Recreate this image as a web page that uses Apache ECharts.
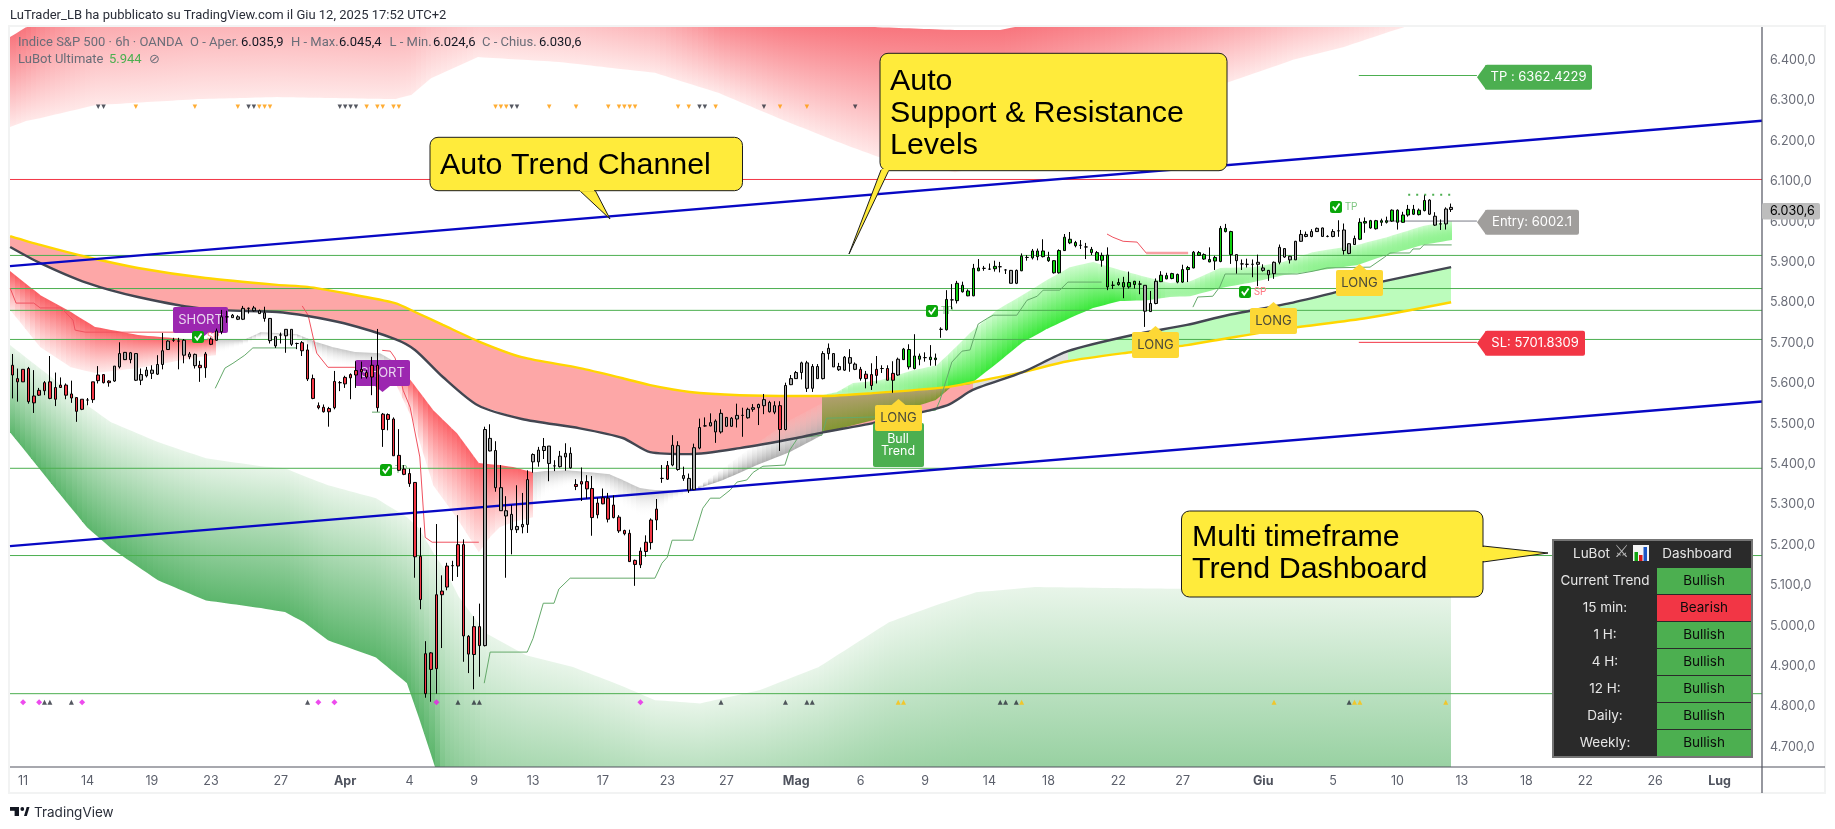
<!DOCTYPE html>
<html><head><meta charset="utf-8"><style>html,body{margin:0;background:#fff}#c{width:1835px;height:829px}</style>
<script src="https://cdn.jsdelivr.net/npm/echarts@6/dist/echarts.min.js"></script></head><body><div id="c"></div>
<script>
// ---- candles: [bodyA, bodyB, low, high], colour codes r=bearish red, n=neutral grey, G=bullish green
const candlesMar=[[5645,5621,5563,5673],[5612,5604,5555,5637],[5635,5604,5604,5635],[5637,5555,5550,5641],[5569,5552,5527,5633],[5583,5571,5569,5589],[5602,5582,5571,5606],[5604,5563,5561,5668],[5590,5561,5544,5627],[5596,5590,5590,5615],[5596,5571,5561,5600],[5574,5564,5552,5607],[5565,5531,5505,5565],[5561,5536,5534,5561],[5559,5559,5546,5564],[5604,5560,5552,5604],[5621,5607,5600,5643],[5622,5602,5600,5622],[5606,5602,5592,5608],[5643,5606,5604,5643],[5674,5641,5637,5702],[5677,5659,5658,5678],[5676,5659,5650,5678],[5674,5608,5606,5674],[5622,5608,5596,5637],[5633,5619,5615,5641],[5633,5625,5611,5645],[5647,5623,5621,5670],[5681,5647,5635,5725],[5705,5684,5683,5707],[5707,5707,5703,5713],[5705,5705,5635,5713],[5707,5670,5650,5710],[5673,5666,5660,5678],[5672,5644,5637,5674],[5645,5639,5604,5656],[5673,5639,5614,5678],[5710,5697,5695,5714],[5730,5707,5706,5736],[5765,5728,5722,5782],[5765,5765,5750,5780],[5769,5763,5763,5772],[5765,5759,5757,5769],[5786,5759,5757,5792],[5786,5786,5773,5788],[5787,5780,5778,5792],[5780,5773,5772,5783],[5775,5761,5753,5790],[5761,5706,5699,5761],[5716,5693,5688,5716],[5720,5720,5699,5726],[5734,5718,5676,5734],[5734,5697,5693,5734],[5699,5699,5685,5701]];
const coloursMar="rrrrrrrrrrrrrrrrrrrnnnnnnnnnnnnnnnnrrrnnnnnnnnnnnnnnnn";
const candlesApr=[[5701,5681,5668,5705],[5683,5611,5606,5697],[5612,5563,5561,5622],[5545,5540,5536,5553],[5541,5530,5528,5548],[5538,5530,5493,5542],[5605,5540,5536,5631],[5602,5602,5581,5606],[5615,5599,5589,5619],[5622,5614,5561,5625],[5632,5621,5589,5655],[5635,5629,5612,5654],[5627,5616,5612,5633],[5645,5616,5571,5666],[5645,5540,5530,5735],[5524,5486,5443,5527],[5523,5511,5484,5526],[5512,5421,5421,5516],[5422,5385,5383,5487],[5388,5375,5373,5398],[5377,5352,5344,5389],[5355,5171,5119,5356],[5172,5065,5041,5243],[4931,4832,4822,4962],[4933,4892,4812,4935],[5077,4894,4832,5252],[5086,5077,4945,5125],[5148,5096,5088,5156],[5149,5149,5111,5161],[5201,5148,5121,5274],[5201,4975,4911,5214],[4974,4930,4883,4977],[4998,4929,4843,5024],[4998,4951,4874,5055],[5486,4951,4949,5493],[5464,5433,5432,5499],[5434,5342,5332,5457],[5342,5285,5285,5398],[5285,5272,5119,5321],[5276,5238,5177,5299],[5246,5238,5230,5348],[5251,5245,5229,5329],[5362,5251,5230,5385],[5424,5406,5379,5427],[5435,5406,5394,5443],[5444,5434,5413,5465],[5445,5402,5358,5445],[5396,5396,5383,5410],[5420,5394,5392,5433],[5427,5418,5384,5452],[5427,5391,5389,5442],[5350,5345,5336,5363],[5357,5351,5309,5392],[5357,5339,5315,5373]];
const coloursApr="rrrrrrrrrrrrrrrrrrrrrrrrrrrrrrrrrrnnnnnnnnnnnnnnnnnrrr";
const candlesMay=[[5340,5268,5223,5371],[5304,5275,5266,5317],[5317,5302,5301,5340],[5316,5264,5256,5329],[5299,5268,5266,5323],[5269,5235,5230,5274],[5236,5228,5224,5238],[5229,5159,5158,5238],[5162,5152,5099,5164],[5185,5151,5143,5194],[5207,5184,5171,5224],[5262,5206,5189,5266],[5289,5262,5237,5314],[5365,5365,5354,5398],[5397,5363,5361,5408],[5447,5398,5395,5472],[5446,5387,5384,5457],[5372,5365,5359,5394],[5365,5336,5329,5377],[5441,5337,5336,5451],[5491,5440,5437,5513],[5495,5495,5493,5516],[5503,5495,5494,5526],[5507,5480,5453,5511],[5526,5480,5476,5536],[5516,5494,5493,5517],[5514,5494,5493,5517],[5521,5512,5491,5550],[5521,5521,5468,5540],[5536,5515,5513,5540],[5540,5536,5530,5549],[5548,5540,5497,5550],[5560,5545,5524,5574],[5553,5530,5528,5557],[5545,5529,5524,5556],[5545,5486,5433,5556],[5595,5486,5484,5602],[5612,5597,5596,5621],[5627,5612,5611,5631],[5651,5627,5610,5654],[5651,5588,5579,5656],[5642,5588,5579,5648],[5642,5612,5611,5648],[5674,5612,5610,5680],[5687,5674,5659,5699],[5674,5641,5641,5674],[5642,5634,5631,5651],[5665,5633,5631,5668],[5664,5650,5629,5685],[5648,5635,5633,5652],[5635,5612,5607,5641],[5623,5612,5588,5631],[5622,5595,5584,5650],[5635,5620,5600,5668]];
const coloursMay="rrrrrrrrrrrrrrrnnnnnnnnnnnnnnnnnnnnrnnnnnnnnnnnnnnrrrr";
const candlesLateMay=[[5637,5637,5626,5645],[5637,5608,5607,5645],[5625,5608,5577,5655],[5660,5621,5619,5664],[5685,5659,5658,5688],[5684,5641,5635,5697],[5668,5637,5635,5722],[5668,5660,5645,5674],[5664,5664,5654,5677],[5665,5659,5644,5695],[5663,5659,5644,5674],[5734,5734,5713,5739],[5808,5733,5731,5831],[5807,5807,5784,5846],[5848,5805,5798,5854],[5843,5827,5825,5852],[5829,5817,5816,5833],[5885,5817,5816,5896],[5886,5879,5878,5908],[5885,5885,5879,5891],[5883,5883,5881,5897],[5890,5884,5877,5904],[5889,5889,5875,5901],[5881,5881,5871,5883],[5880,5848,5848,5881],[5880,5848,5846,5882],[5915,5879,5878,5922],[5912,5912,5904,5918],[5928,5911,5907,5933],[5928,5914,5905,5934],[5928,5914,5912,5957],[5912,5904,5901,5926],[5904,5874,5872,5905],[5929,5874,5872,5932],[5962,5929,5928,5970],[5957,5948,5945,5975],[5949,5941,5937,5953],[5942,5942,5933,5955],[5938,5938,5908,5948],[5932,5924,5918,5938],[5924,5905,5904,5928],[5917,5905,5889,5924],[5918,5839,5831,5937],[5843,5843,5834,5853],[5850,5845,5842,5860],[5850,5839,5811,5864],[5850,5839,5835,5877],[5853,5845,5835,5854],[5846,5846,5821,5854],[5843,5779,5740,5843],[5798,5778,5777,5829],[5853,5798,5796,5860],[5868,5852,5851,5878],[5867,5859,5858,5874]];
const coloursLateMay="rrrnGGGGGGGGGGGGGGGGGGGGnnGGGGGGGGGGGGGGGGGGGGGGGnnnGG";
const candlesJun=[[5872,5860,5858,5874],[5870,5851,5848,5872],[5882,5851,5849,5894],[5887,5882,5851,5891],[5925,5886,5885,5928],[5924,5917,5916,5928],[5919,5908,5906,5922],[5907,5901,5900,5937],[5912,5903,5881,5916],[5984,5902,5900,5990],[5984,5976,5974,5995],[5976,5919,5896,5978],[5919,5904,5872,5920],[5896,5896,5881,5907],[5895,5895,5887,5909],[5895,5895,5863,5907],[5900,5895,5841,5919],[5886,5880,5877,5895],[5880,5869,5854,5881],[5900,5872,5859,5902],[5937,5900,5895,5944],[5934,5913,5911,5934],[5915,5906,5897,5916],[5952,5906,5906,5953],[5969,5952,5951,5980],[5969,5964,5962,5976],[5976,5964,5962,5982],[5984,5976,5975,5986],[5985,5964,5963,5986],[5964,5964,5962,5967],[5976,5964,5962,5982],[5978,5978,5963,6004],[5980,5929,5919,5996],[5946,5922,5920,5947],[5959,5944,5943,5966],[5999,5957,5955,6009],[6001,5997,5973,6011],[6003,5985,5983,6005],[6003,5983,5981,6005],[6003,5999,5990,6008],[6003,5999,5996,6013],[6029,6002,6000,6031],[6029,5999,5981,6031],[6017,5999,5998,6025],[6031,6017,6013,6042],[6031,6019,6017,6042],[6029,6018,6016,6033],[6053,6028,6026,6066],[6054,6019,6017,6056],[6014,5992,5990,6024],[5995,5995,5980,6006],[6032,5995,5981,6036],[6035.9,6030.6,6024.6,6045.4]];
const coloursJun="GGGGGGGGGGGGnnnnnnnnnnnnnnnnnnnnnnnGGGGGGGGGGGGGnnnnn";

// ---- axes
const yTicks=[4700,4800,4900,5000,5100,5200,5300,5400,5500,5600,5700,5800,5900,6000,6100,6200,6300,6400];
const xTickBars=[2,14,26,37,50,62,74,86,97,110,122,133,146,158,170,182,193,206,218,233,246,258,270,282,293,306,318];
const xTickLabels=["11","14","19","23","27","Apr","4","9","13","17","23","27","Mag","6","9","14","18","22","27","Giu","5","10","13","18","22","26","Lug"];
const monthLabels=["Apr","Mag","Giu","Lug"];

// ---- horizontal levels and channel lines
const supportLevels=[5917,5835,5781,5709,5390,5174,4832];
const resistanceLevel=6105;
const channelUpper=[[-0.43,5890.6],[325.9,6250.4]];
const channelLower=[[-0.43,5197.2],[325.9,5555.3]];
const tpLine=[[250.8,6362.4],[272.8,6362.4]];
const entryLine=[[256,6002.1],[272.8,6002.1]];
const slLine=[[250.8,5701.8],[272.8,5701.8]];
const tpDots=[[260,6067],[268,6067]];

// ---- slow ribbon
const slowBars=[-0.4,5.2,13.9,23.4,36,49.3,55,61.8,71.3,75,80.2,86.7,94.9,105.7,113.7,118.8,126.2,135.5,146.1,151,160.3,174.1,178.9,188.2,196.6,208.7,218.8,226.3,238,252.3,268];
const slowYellow=[5965,5943,5913,5886,5861,5844,5839,5824,5799,5777,5745,5705,5665,5638,5613,5596,5579,5571,5569,5569,5576,5591,5603,5628,5655,5678,5695,5712,5737,5762,5801];
const slowDark=[5938,5898,5849,5814,5784,5777,5767,5749,5710,5683,5616,5546,5512,5489,5465,5430,5425,5440,5465,5479,5502,5546,5584,5628,5680,5720,5745,5769,5799,5844,5888];

// ---- gradient bands: [bar, upper, lower]
const bandTopRed=[[-0.4,6458,6235],[2.6,6482,6250],[5.2,6525,6257],[15.4,6648,6289],[34.6,6698,6304],[49.3,6698,6309],[71.3,6673,6304],[74.3,6673,6314],[78,6698,6356],[86.7,6710,6408],[101.8,6710,6396],[119.7,6624,6369],[131.6,6525,6319],[143.6,6500,6252],[155.3,6487,6190],[161.3,6482,6161],[175.6,6475,6123],[184,6475,6146],[202.6,6525,6240],[226.6,6599,6346],[238.5,6648,6401],[248,6673,6433],[257.5,6698,6475],[259.2,6698,6482]];
const bandLowGreen=[[-0.4,5695,5479],[7.2,5616,5353],[13.9,5546,5244],[18.4,5504,5192],[27.1,5455,5113],[36,5415,5063],[46.3,5395,5044],[50.8,5390,5034],[54.3,5371,5009],[58.8,5348,4964],[67.7,5316,4922],[73.5,5269,4858],[75.7,5242,4774],[78.7,5175,4652],[80.6,5138,4444],[83.2,5071,4395],[88.2,4982,4320],[95.7,4927,4320],[104.4,4898,4320],[113.2,4853,4320],[119.7,4816,4320],[128.1,4808,4320],[139.3,4841,4320],[150.2,4898,4320],[163.3,5009,4320],[172,5051,4320],[179.5,5083,4320],[190.5,5096,4320],[208.9,5093,4320],[239.8,5088,4320],[268,5078,4320]];
const fastRedA=[[-0.4,5878,5782],[5.2,5819,5690],[10.9,5777,5640],[15.4,5740,5626],[23.4,5720,5638],[34.6,5707,5665],[37.9,5710,5670]];
const fastGreyA=[[37.9,5710,5670],[43,5707,5695],[46.3,5727,5712],[53,5722,5715],[56.7,5702,5663],[59.7,5690,5645],[63.8,5678,5638],[68.5,5675,5628],[71.7,5650,5591]];
const fastRedB=[[71.7,5650,5591],[74.6,5601,5509],[78.4,5534,5348],[82.8,5477,5267],[86.9,5403,5182],[89,5400,5220],[90.8,5398,5244],[93.3,5393,5257],[97,5380,5269]];
const fastGreyB=[[97,5380,5269],[99.2,5383,5323],[103.3,5385,5343],[107.6,5380,5353],[111.3,5375,5319],[113.7,5361,5294],[116.9,5341,5269],[119.7,5336,5274],[123,5336,5311],[126.8,5336,5336]];
const fastGreyC=[[126.8,5336,5336],[132.4,5390,5361],[138.7,5452,5398],[144.8,5509,5430],[150.8,5551,5472]];
const fastOlive=[[150.8,5569,5477],[160.3,5576,5509],[172,5588,5559],[174.6,5593,5588]];
const fastGreen=[[150.8,5571,5569],[153.6,5579,5569],[156.6,5601,5571],[161.6,5608,5576],[167.8,5633,5584],[172.2,5645,5586],[175.2,5683,5593],[178.4,5725,5598],[183.4,5782,5650],[188.2,5819,5702],[192.7,5856,5735],[197,5888,5762],[201.3,5901,5787],[206.3,5881,5804],[211.3,5863,5806],[215.6,5849,5814],[219.4,5853,5816],[225,5886,5836],[231.2,5888,5851],[236.7,5901,5868],[242.2,5925,5878],[250.5,5943,5893],[256,5962,5918],[262.8,5990,5943],[268.1,6002,5955]];

// ---- trailing stops
const redTrailA=[[-0.4,5836],[0.7,5799],[4,5799],[5.2,5787],[9.1,5787],[11.3,5757],[11.7,5732],[13.6,5727],[35,5727]];
const redTrailB=[[54,5792],[55.1,5769],[56.7,5675],[58.8,5640],[63.8,5640]];
const redTrailC=[[68.9,5682],[70.4,5680],[71.3,5663],[72.8,5583],[74.1,5541],[75.9,5418],[76.9,5219],[78.2,5207],[86.9,5207]];
const redTrailD=[[203.9,5970],[205,5962],[206.9,5952],[209.5,5950],[211.2,5923],[219,5923]];
const redTrailE=[[211.2,5923],[219,5923]];
const greenTrailA=[[37.8,5588],[39.6,5638],[41.1,5650],[43.3,5670],[44.8,5688],[53,5688]];
const greenTrailB=[[67,5529],[68.5,5529]];
const greenTrailC=[[87.9,4858],[89,4935],[95.9,4935],[97,4969],[98.9,5056],[100.9,5056],[101.8,5091],[103.9,5118],[119.7,5118],[121,5155],[122,5170],[122.9,5212],[126.8,5212],[128.6,5291],[130,5316],[131.8,5316],[133.7,5336],[135,5356],[136.8,5361],[138,5380],[139.8,5395],[143.9,5398],[144.8,5435],[146.3,5465],[150.8,5472],[151.7,5514],[160.7,5517],[172,5534],[172.8,5559],[175,5653],[176.9,5680],[178.4,5683],[179.9,5747],[181.7,5762],[182.7,5769],[187.1,5769],[189,5806],[190.9,5816],[192,5831],[195.1,5831],[196.6,5851],[202.9,5851]];
const greenTrailD=[[219.9,5789],[220.8,5814],[223.6,5816],[224.9,5839],[225.9,5871],[239.3,5871],[242.3,5878],[244.9,5886],[252.9,5888],[255.3,5910],[256.6,5923],[260.3,5923],[260.9,5933],[262.2,5933],[262.9,5943],[268.1,5943]];

// ---- event markers (bar index)
const topMarkerPrice=6285, bottomMarkerPrice=4811;
const topBlackBars=[16,17,44,45,61,62,63,64,93,94,128,129,140,157];
const topOrangeBars=[23,34,42,46,47,48,66,68,69,71,72,90,91,92,100,105,111,113,114,115,116,124,126,131,143,148];
const bottomMagentaBars=[2,5,13,57,60,79,117];
const bottomBlackBars=[6,7,11,55,83,86,87,132,144,148,149,184,185,187,249];
const bottomGoldBars=[165,166,188,235,250,251,267];

// ---- dashboard
const dashRows=["Current Trend","15 min:","1 H:","4 H:","12 H:","Daily:","Weekly:"];
const dashStates=["Bullish","Bearish","Bullish","Bullish","Bullish","Bullish","Bullish"];

const colourOf={r:'#f23645',n:'#a6a6a6',G:'#0fd10f'};
const allCandles=[...candlesMar,...candlesApr,...candlesMay,...candlesLateMay,...candlesJun];
const allColours=coloursMar+coloursApr+coloursMay+coloursLateMay+coloursJun;
const candleData=allCandles.map((r,i)=>({value:[i,r[0],r[1],r[2],r[3]],itemStyle:{color:colourOf[allColours[i]],color0:colourOf[allColours[i]],borderColor:'#000',borderColor0:'#000',borderColorDoji:'#000'}}));

const rgba=c=>`rgba(${c[0]},${c[1]},${c[2]},${c[3]})`;
function bandSeries(name,rows,top,bot,z,soft){
  return {type:'custom',name,silent:true,z,clip:true,animation:false,coordinateSystem:'cartesian2d',
    encode:{x:0,y:[1,2]},data:rows,
    renderItem(p,api){
      const i=p.dataIndex; if(i>=rows.length-1) return null;
      const a=api.coord([rows[i][0],rows[i][1]]),b=api.coord([rows[i][0],rows[i][2]]),
            c=api.coord([rows[i+1][0],rows[i+1][1]]),d=api.coord([rows[i+1][0],rows[i+1][2]]);
      const n=Math.max(1,Math.ceil((c[0]-a[0])/5.37)),kids=[];
      for(let k=0;k<n;k++){
        const x0=Math.round(a[0]+(c[0]-a[0])*k/n),x1=Math.round(a[0]+(c[0]-a[0])*(k+1)/n);
        const f0=(x0-a[0])/(c[0]-a[0]),f1=(x1-a[0])/(c[0]-a[0]);
        const u0=a[1]+(c[1]-a[1])*f0,u1=a[1]+(c[1]-a[1])*f1,l0=b[1]+(d[1]-b[1])*f0,l1=b[1]+(d[1]-b[1])*f1;
        const ym=(u0+u1)/2,yb=(l0+l1)/2,yTop=Math.min(ym,yb),yBot=Math.max(ym,yb,yTop+1);
        let bc=bot; if(soft){bc=[bot[0],bot[1],bot[2],bot[3]*Math.min(1,(yBot-yTop)/34)];}
        kids.push({type:'polygon',shape:{points:[[x0,u0],[x1,u1],[x1,l1],[x0,l0]]},
          style:{fill:new echarts.graphic.LinearGradient(0,yTop,0,yBot,[{offset:0,color:rgba(top)},{offset:1,color:rgba(bc)}],true)}});
      }
      return {type:'group',children:kids};
    }};
}
const line=(name,data,color,width,z,extra)=>Object.assign({type:'line',name,data,symbol:'none',silent:true,animation:false,z,lineStyle:{color,width}},extra||{});
const zipBars=(a,b,c)=>a.map((x,i)=>[x,b[i],c[i]]);
const slowRows=zipBars(slowBars,slowYellow,slowDark);
const ptsOf=(bars,vals)=>bars.map((x,i)=>[x,vals[i]]);
const marker=(name,bars,price,symbol,color,size,rot)=>({type:'scatter',name,silent:true,animation:false,z:6,symbol,symbolSize:size,symbolRotate:rot||0,itemStyle:{color},data:bars.map(b=>[b,price])});

// ---- page furniture
const G=[];
const rect=(x,y,w,h,fill,z,r,stroke,lw)=>G.push({type:'rect',silent:true,z,shape:{x,y,width:w,height:h,r:r||0},style:{fill,stroke:stroke||null,lineWidth:lw||0}});
const poly=(pts,fill,z,stroke,lw)=>G.push({type:'polygon',silent:true,z,shape:{points:pts},style:{fill,stroke:stroke||null,lineWidth:lw||0}});
const ln=(x1,y1,x2,y2,stroke,z,lw)=>G.push({type:'line',silent:true,z,shape:{x1,y1,x2,y2},style:{stroke,lineWidth:lw||1}});
const txt=(x,y,text,size,fill,z,o)=>{o=o||{};G.push({type:'text',silent:true,z,x,y,style:{text,fill,fontSize:size,fontFamily:o.f||'Inter',fontWeight:o.w||'normal',align:o.a||'left',verticalAlign:'middle'}});};

// frame
rect(9,26,1816,767,'none',0.5,0,'#f2f3f3',2);
ln(1762,27,1762,793,'#50535e',8,1.2);
ln(10,767,1825,767,'#50535e',8,1.2);

// header + legend
txt(10,16,'LuTrader_LB ha pubblicato su TradingView.com il Giu 12, 2025 17:52 UTC+2',13,'#2a2e39',10,{f:'Roboto'});
const grey='#6a6d78',dark='#131722';
[[18,'Indice S&P 500 · 6h · OANDA',grey],[190,'O - Aper.',grey],[241,'6.035,9',dark],[291,'H - Max.',grey],[339,'6.045,4',dark],[389.5,'L - Min.',grey],[433,'6.024,6',dark],[482,'C - Chius.',grey],[539,'6.030,6',dark],[18,'LuBot Ultimate',grey,1],[109,'5.944','#4caf50',1],[149,'⊘',grey,1]].forEach(p=>txt(p[0],p[3]?59.5:42.7,p[1],13,p[2],10,{f:p[1]=='⊘'?'DejaVu Sans':'Roboto'}));

// price box
rect(1762,203,58,16.5,'#bdbdbd',9,2);
txt(1770,211,'6.030,6',12.5,'#000',10);

// TP / Entry / SL tags
const sideTag=(x1,ycy,w,fill,t)=>{poly([[1477,ycy],[1486,ycy-12.5],[1486,ycy+12.5]],fill,3);rect(1485,ycy-12.5,w,25,fill,3,2);txt(1485+w/2,ycy,t,13,'#fff',4,{a:'center',f:'Inter'});};
sideTag(0,77.3,107,'#4caf50','TP : 6362.4229');
sideTag(0,222.3,94,'#a09e9c','Entry: 6002.1');
sideTag(0,343.3,100,'#f23645','SL: 5701.8309');

// SHORT / LONG tags
const shortTag=(x,y)=>{rect(x,y,55,26,'#9c27b0',3,2);poly([[x+20,y+26],[x+35,y+26],[x+27.5,y+32]],'#9c27b0',3);txt(x+27.5,y+13,'SHORT',13,'#e9d5ef',3.5,{a:'center'});};
shortTag(173,307);shortTag(355,360);
const longTag=(x,y)=>{poly([[x+16.5,y],[x+30.5,y],[x+23.5,y-6]],'#fdd835',4);rect(x,y,47,26,'#fdd835',4,2);txt(x+23.5,y+13,'LONG',13,'#4a4a3a',4.5,{a:'center'});};
rect(873,423,51,44,'#4caf50',3,2);
txt(898,439,'Bull',12.5,'#fff',3.5,{a:'center'});txt(898,451.5,'Trend',12.5,'#fff',3.5,{a:'center'});
longTag(875,405);longTag(1132,332);longTag(1250,308);longTag(1336,270);

// check badges
const badge=(cx,cy,t,col)=>{rect(cx-6,cy-6,12,12,'#0aa60a',3,2.5);
  G.push({type:'polyline',silent:true,z:3.2,shape:{points:[[cx-3.2,cy-0.5],[cx-0.8,cy+2.8],[cx+3.6,cy-3.6]]},style:{stroke:'#fff',fill:'none',lineWidth:1.8}});
  if(t)txt(cx+9,cy+0.5,t,10,col,3.2,{f:'Roboto'});};
badge(198,337,'SP','#ff7a85');badge(386,470,'TP','#81c784');badge(932,311,'TP','#81c784');badge(1336,207,'TP','#81c784');badge(1245,292,'SP','#ff7a85');

// callouts
const Y='#ffeb3b',K='#1c1c1c';
const callout=(x,y,w,h,tail,patch,lines)=>{poly(tail,Y,20,K,1);rect(x,y,w,h,Y,21,8,K,1);rect(patch[0],patch[1],patch[2],patch[3],Y,22);
  lines.forEach(l=>txt(l[0],l[1],l[2],30.4,'#000',23,{f:'Liberation Sans'}));};
callout(430,137.3,312.5,53.4,[[579,190],[595,190],[610,219]],[580,189,14,2.5],[[440,165.5,'Auto Trend Channel']]);
callout(880,53.3,347,117.4,[[881,170],[889,170],[849,254]],[881.5,169,7,2.5],[[890,82,'Auto'],[890,114,'Support & Resistance'],[890,146,'Levels']]);
callout(1181.5,511,301.5,86,[[1483,546],[1483,562],[1548,553]],[1481.5,547,3,14],[[1192,537.5,'Multi timeframe'],[1192,570,'Trend Dashboard']]);

// dashboard
rect(1553,540,199,217,'#2a2a2a',24,0,'#757575',2);
txt(1573,554,'LuBot',13.5,'#e6e6e6',25);
txt(1614,553,'⚔',17,'#b8b8b8',25,{f:'DejaVu Sans'});
rect(1633,545,16,16,'#f3f3f3',25);rect(1634.5,552,3.5,9,'#0fa30f',25.2);rect(1639,555,3.5,6,'#d61a1a',25.2);rect(1643.5,547,3.5,14,'#1a55c4',25.2);
txt(1697,554,'Dashboard',13.5,'#e6e6e6',25,{a:'center'});
dashRows.forEach((t,i)=>{const y=568+i*27;
  rect(1657,y,94,26,dashStates[i]=='Bullish'?'#4caf50':'#f23645',25);
  txt(1605,y+13,t,13.5,'#e6e6e6',26,{a:'center'});
  txt(1704,y+13,dashStates[i],13.5,'#0b0b0b',26,{a:'center'});});

// TradingView mark
rect(10,807,9,3.8,'#131722',10);rect(14.6,807,4.4,9,'#131722',10);
G.push({type:'circle',silent:true,z:10,shape:{cx:22.3,cy:809,r:1.9},style:{fill:'#131722'}});
poly([[24,816],[26.7,807],[29.5,807],[26.8,816]],'#131722',10);
txt(34,813,'TradingView',13.5,'#2a2e39',10,{f:'Inter'});

const bandsAndLines=[
  bandSeries('top red band',bandTopRed,[248,118,126,1],[255,232,232,1],1),
  bandSeries('lower green band',bandLowGreen,[232,245,233,1],[92,182,108,1],1),
  bandSeries('slow ribbon bear',slowRows.slice(0,23),[253,167,167,1],[253,167,167,1],1.1),
  bandSeries('slow ribbon flat',slowRows.slice(22,25),[224,224,224,1],[224,224,224,1],1.1),
  bandSeries('slow ribbon bull',slowRows.slice(24),[188,252,188,1],[188,252,188,1],1.1),
  bandSeries('fast red a',fastRedA,[250,95,100,1],[255,228,228,0.8],1.2),
  bandSeries('fast grey a',fastGreyA,[190,190,190,0.85],[255,255,255,0],1.2),
  bandSeries('fast red b',fastRedB,[252,100,105,1],[255,228,228,0.8],1.2),
  bandSeries('fast grey b',fastGreyB,[190,190,190,0.85],[255,255,255,0],1.2),
  bandSeries('fast grey c',fastGreyC,[225,225,225,0.1],[165,165,165,0.9],1.2),
  bandSeries('fast olive',fastOlive,[178,160,112,1],[130,150,50,1],1.3),
  bandSeries('fast green',fastGreen,[205,252,205,1],[58,232,58,1],1.3,true)
];
const hLines=supportLevels.map((v,i)=>line('S'+i,[[-0.43,v],[325.9,v]],'#4caf50',1,2));

const option={
  backgroundColor:'#fff',animation:false,
  grid:{left:10,right:73,top:27,bottom:62,containLabel:false},
  xAxis:{type:'value',min:-0.43,max:325.9,splitLine:{show:false},axisTick:{show:false},axisLine:{show:false},
    axisLabel:{customValues:xTickBars,margin:8,hideOverlap:false,color:'#5b5f6b',fontFamily:'Inter',fontSize:12.5,
      formatter:v=>{const s=xTickLabels[xTickBars.indexOf(v)];return monthLabels.includes(s)?'{b|'+s+'}':s;},
      rich:{b:{fontWeight:'bold',color:'#4f535e',fontFamily:'Inter',fontSize:12.5}}}},
  yAxis:{type:'value',position:'right',min:4650.5,max:6482.5,splitLine:{show:false},axisTick:{show:false},axisLine:{show:false},
    axisLabel:{customValues:yTicks,margin:8,color:'#6a6d78',fontFamily:'Inter',fontSize:12.5,
      formatter:v=>{const s=String(Math.round(v));return s[0]+'.'+s.slice(1)+',0';}}},
  graphic:{elements:G},
  series:[
    ...bandsAndLines,
    ...hLines,
    line('R',[[-0.43,resistanceLevel],[325.9,resistanceLevel]],'#f23645',1,2),
    line('channel up',channelUpper,'#0808c4',2.4,2.2),
    line('channel low',channelLower,'#0808c4',2.4,2.2),
    line('slow yellow',ptsOf(slowBars,slowYellow),'#ffd600',2.4,2,{smooth:0.25}),
    line('slow dark',ptsOf(slowBars,slowDark),'#434651',2.4,2.1,{smooth:0.25}),
    line('rt a',redTrailA,'#f0525f',1,2),line('rt b',redTrailB,'#f0525f',1,2),line('rt c',redTrailC,'#f0525f',1,2),line('rt d',redTrailD,'#f0525f',1,2),line('rt e',redTrailE,'#f8a0a4',2.5,2),
    line('gt a',greenTrailA,'#64a96a',1,2),line('gt b',greenTrailB,'#64a96a',1,2),line('gt c',greenTrailC,'#64a96a',1,2),line('gt d',greenTrailD,'#64a96a',1,2),
    line('tp',tpLine,'#4caf50',1,2),line('entry',entryLine,'#787b86',1,2),line('sl',slLine,'#f23645',1,2),
    Object.assign(line('tp dots',tpDots,'#4caf50',2,2),{lineStyle:{color:'#4caf50',width:2,type:[2,6]}}),
    marker('top black',topBlackBars,topMarkerPrice,'triangle','#2a2e39',4.5,180),
    marker('top orange',topOrangeBars,topMarkerPrice,'triangle','#ff9800',4.5,180),
    marker('bottom magenta',bottomMagentaBars,bottomMarkerPrice,'diamond','#e91ee8',6),
    marker('bottom black',bottomBlackBars,bottomMarkerPrice,'triangle','#2a2e39',5),
    marker('bottom gold',bottomGoldBars,bottomMarkerPrice,'triangle','#ffc107',5),
    {type:'candlestick',name:'S&P 500',data:candleData,barWidth:3,z:5,silent:true,animation:false,encode:{x:0,y:[1,2,3,4]},
     itemStyle:{borderWidth:1,borderColor:'#000',borderColor0:'#000',borderColorDoji:'#000'}}
  ]
};
const chart=echarts.init(document.getElementById('c'),null,{width:1835,height:829,renderer:'canvas'});
chart.setOption(option);
</script></body></html>
